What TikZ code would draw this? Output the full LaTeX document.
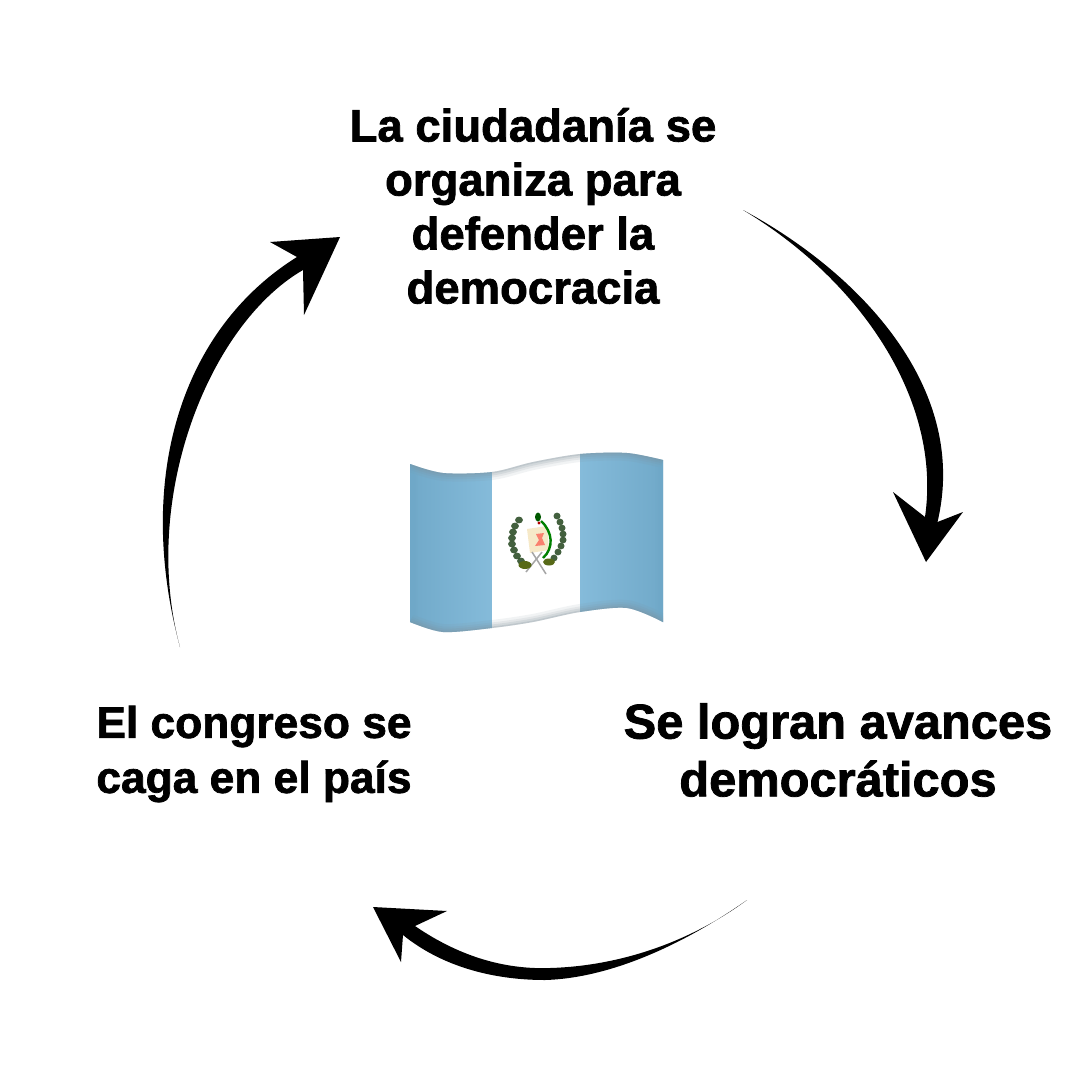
\documentclass[tikz,border=0pt]{standalone}
\usepackage{fontspec}
\setmainfont{Liberation Sans Bold}[FakeBold=1.6]
\usetikzlibrary{shadings}
\definecolor{flagblue}{HTML}{85BBDA}
\definecolor{flagdeep}{HTML}{6FA8C8}
\definecolor{flagedge}{HTML}{7F8F99}
\definecolor{wreath}{HTML}{2F4F2A}
\definecolor{scrollc}{HTML}{F6E9C8}
\tikzset{
  label/.style={font=\fontsize{#1}{#1}\selectfont,align=center,text=black,inner sep=0pt},
  arrowshape/.style={fill=black,draw=none},
  leaf/.style={fill=wreath,opacity=0.9},
}
\begin{document}
\begin{tikzpicture}[x=1pt,y=-1pt]
\useasboundingbox (0,0) rectangle (1080,1080);
\fill[white] (0,0) rectangle (1080,1080);
% labels
\node[label=45.5] (top) at (533,206) {La ciudadanía se\\[8.5pt]organiza para\\[8.5pt]defender la\\[8.5pt]democracia};
\node[label=48.8] (right) at (838,750) {Se logran avances\\[9pt]democráticos};
\node[label=44.3] (left) at (254,754) {El congreso se\\[10.7pt]caga en el país};
% right arrow
\coordinate (rtail) at (743,210);
\coordinate (rtip) at (926,562);
\fill[arrowshape] (rtail) .. controls (855,270) and (970,385) .. (937.5,522)
  -- (963,512) -- (rtip) -- (893,492) -- (925,517)
  .. controls (942,400) and (860,280) .. (rtail) -- cycle;
% left arrow
\coordinate (ltail) at (180,647);
\coordinate (ltip) at (340,237);
\fill[arrowshape] (ltail) .. controls (135,480) and (180,330) .. (297,257)
  -- (270,242) -- (ltip) -- (304,315) -- (303,270)
  .. controls (208,325) and (140,500) .. (ltail) -- cycle;
% bottom arrow
\coordinate (btail) at (747,900);
\coordinate (btip) at (373,907);
\fill[arrowshape] (btail) .. controls (690,942) and (620,966) .. (550,968) .. controls (495,970) and (450,950) .. (415,926)
  -- (447,911) -- (btip) -- (401,962) -- (403,935)
  .. controls (440,965) and (490,980) .. (545,980) .. controls (615,978) and (690,940) .. (btail) -- cycle;
% flag
\begin{scope}
\clip plot[smooth] coordinates {(410,464) (443,473) (492,472) (533,462) (580,454) (627,453) (663,460)}
  -- plot[smooth] coordinates {(663,622) (627,608) (580,612) (533,622) (492,628) (443,632) (410,622)} -- cycle;
\shade[left color=flagdeep,middle color=flagblue,right color=flagblue] (405,445) rectangle (492,640);
\fill[white] (492,445) rectangle (580,640);
\shade[left color=flagblue,middle color=flagblue!85!flagdeep,right color=flagdeep] (580,445) rectangle (668,640);
\foreach \w/\o in {16/0.1,11/0.12,7/0.16,3/0.22}{
  \draw[flagedge,line width=\w pt,opacity=\o] plot[smooth] coordinates {(410,464) (443,473) (492,472) (533,462) (580,454) (627,453) (663,460)};
  \draw[flagedge,line width=\w pt,opacity=\o] plot[smooth] coordinates {(663,622) (627,608) (580,612) (533,622) (492,628) (443,632) (410,622)};
  \draw[flagdeep,line width=\w pt,opacity=\o] (410,460) -- (410,625);
  \draw[flagdeep,line width=\w pt,opacity=\o] (663,455) -- (663,625);
}
\end{scope}
% emblem
\fill[scrollc] (527,529) -- (547,526) -- (549,550) -- (530,553) -- cycle;
\fill[red!45!scrollc] (536,534) -- (544,533) -- (542,538) -- (545,545) -- (535,546) -- (539,540) -- cycle;
\draw[gray!70,line width=1.5pt] (526,572) -- (542,552);
\draw[gray!70,line width=1.5pt] (546,574) -- (532,552);
\foreach \p in {(519,520),(515,526),(513,532),(512,538),(512,544),(514,550),(517,556),(521,561)}{
  \fill[leaf] \p ellipse (3.9 and 3.4);
}
\foreach \p in {(557,516),(560,522),(562,528),(563,534),(563,540),(561,546),(558,552),(554,558)}{
  \fill[leaf] \p ellipse (3.5 and 3.4);
}
\fill[wreath!70!yellow!80!black] (525,565) ellipse (6.5 and 4);
\fill[wreath!70!yellow!80!black] (549,562) ellipse (6 and 3.5);
\draw[green!50!black,line width=2.4pt] (541,521) .. controls (553,532) and (554,548) .. (543,558);
\fill[green!35!black] (538,517) ellipse (3 and 4.5);
\fill[red!70!black] (539,523) circle (1.6);
\end{tikzpicture}
\end{document}
